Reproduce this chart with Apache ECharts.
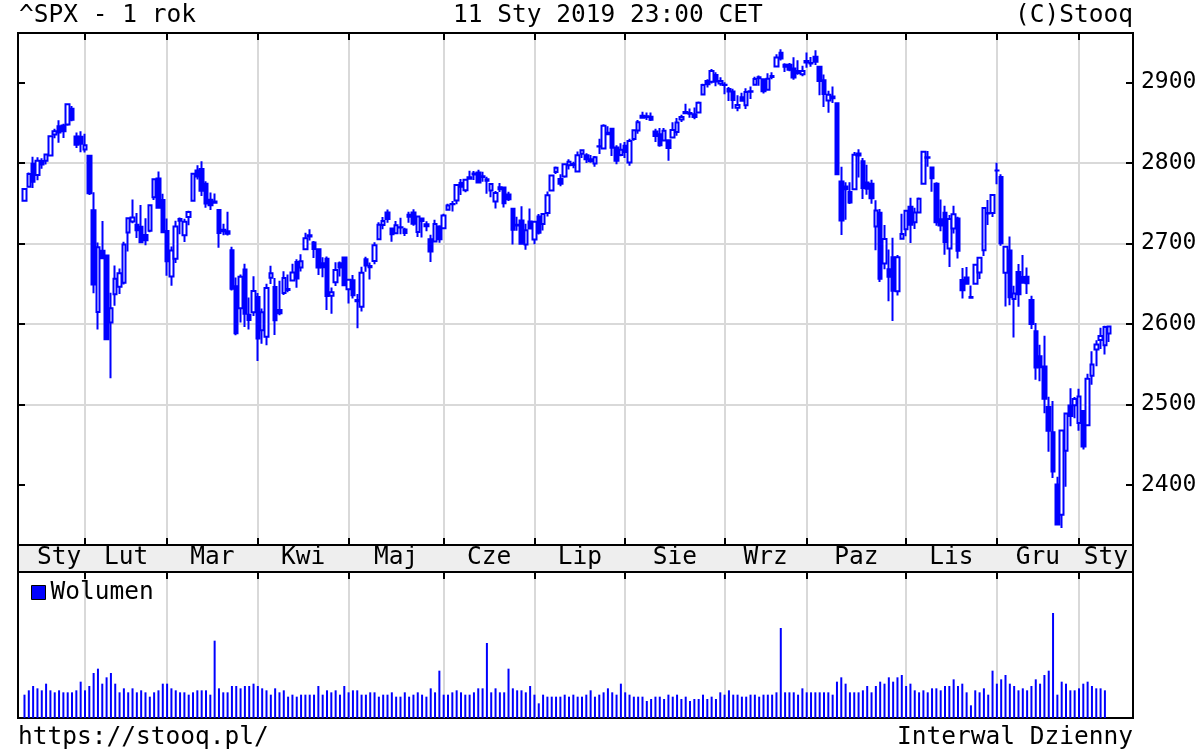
<!DOCTYPE html>
<html><head><meta charset="utf-8">
<script src="https://cdn.jsdelivr.net/npm/echarts@6/dist/echarts.min.js"></script>
<style>html,body{margin:0;padding:0;background:#fff}#c{width:1200px;height:750px}</style>
</head><body><div id="c"></div>
<script>
// ---------------- DATA ----------------
const monthNames = ['Sty','Lut','Mar','Kwi','Maj','Cze','Lip','Sie','Wrz','Paz','Lis','Gru','Sty'];
const monthYear  = [2018,2018,2018,2018,2018,2018,2018,2018,2018,2018,2018,2018,2019];
const monthNum   = [1,2,3,4,5,6,7,8,9,10,11,12,1];
const tradingDays = [
 [11,12,16,17,18,19,22,23,24,25,26,29,30,31],
 [1,2,5,6,7,8,9,12,13,14,15,16,20,21,22,23,26,27,28],
 [1,2,5,6,7,8,9,12,13,14,15,16,19,20,21,22,23,26,27,28,29],
 [2,3,4,5,6,9,10,11,12,13,16,17,18,19,20,23,24,25,26,27,30],
 [1,2,3,4,7,8,9,10,11,14,15,16,17,18,21,22,23,24,25,29,30,31],
 [1,4,5,6,7,8,11,12,13,14,15,18,19,20,21,22,25,26,27,28,29],
 [2,3,5,6,9,10,11,12,13,16,17,18,19,20,23,24,25,26,27,30,31],
 [1,2,3,6,7,8,9,10,13,14,15,16,17,20,21,22,23,24,27,28,29,30,31],
 [4,5,6,7,10,11,12,13,14,17,18,19,20,21,24,25,26,27,28],
 [1,2,3,4,5,8,9,10,11,12,15,16,17,18,19,22,23,24,25,26,29,30,31],
 [1,2,5,6,7,8,9,12,13,14,15,16,19,20,21,23,26,27,28,29,30],
 [3,4,6,7,10,11,12,13,14,17,18,19,20,21,24,26,27,28,31],
 [2,3,4,7,8,9,10,11]
];
const open = [
 2752.97,2770.18,2798.96,2784.99,2802.40,2802.60,2809.16,2835.05,2845.42,2846.24,2847.48,2867.23,2832.74,2832.41,
 2816.45,2808.92,2741.06,2614.78,2690.95,2685.01,2601.78,2636.75,2646.27,2651.21,2713.46,2727.14,2722.99,2720.53,2710.42,2715.80,2757.37,2780.45,2753.78,
 2715.22,2658.89,2681.06,2730.18,2710.18,2732.75,2752.91,2790.54,2792.31,2774.06,2754.27,2750.57,2741.38,2715.05,2714.99,2691.36,2646.71,2619.35,2667.57,2611.30,2614.41,
 2633.45,2592.17,2584.04,2657.36,2645.82,2617.18,2638.41,2643.22,2653.83,2676.90,2670.10,2692.74,2710.11,2701.16,2692.56,2675.40,2680.80,2634.92,2651.65,2675.47,2682.51,
 2642.96,2654.24,2628.08,2621.45,2680.34,2670.26,2678.12,2705.02,2722.70,2738.47,2718.59,2712.62,2719.71,2717.35,2735.39,2738.34,2713.98,2730.94,2723.60,2705.11,2702.43,2720.98,
 2718.70,2741.67,2748.46,2753.25,2774.84,2765.84,2780.18,2785.60,2787.94,2783.21,2777.78,2765.79,2752.01,2769.73,2769.28,2760.79,2742.94,2722.12,2728.45,2698.69,2727.13,
 2704.95,2733.27,2724.19,2737.68,2765.79,2788.56,2779.82,2783.14,2796.93,2797.36,2789.34,2811.35,2809.37,2804.55,2799.17,2820.68,2817.73,2835.49,2842.35,2819.00,2809.73,
 2821.17,2800.48,2829.62,2840.29,2855.92,2856.79,2857.19,2838.90,2835.46,2827.88,2827.95,2831.44,2838.32,2853.93,2861.51,2860.99,2860.29,2862.35,2884.69,2901.45,2900.62,2908.94,2898.37,
 2896.96,2891.59,2888.64,2868.26,2881.39,2871.57,2888.29,2896.85,2906.38,2903.83,2890.74,2906.60,2919.73,2936.76,2921.83,2921.75,2916.98,2911.65,2910.03,
 2926.29,2923.80,2931.69,2919.35,2902.54,2877.53,2882.51,2873.90,2776.87,2770.54,2763.83,2767.05,2811.67,2802.00,2775.66,2773.94,2721.03,2737.87,2674.88,2667.86,2682.65,2640.68,2705.60,
 2717.58,2745.45,2726.37,2738.40,2774.13,2806.38,2794.10,2773.93,2730.05,2737.90,2693.52,2718.54,2730.74,2654.60,2657.74,2633.36,2649.97,2663.75,2691.45,2736.97,2737.76,
 2790.50,2782.43,2663.51,2691.26,2630.86,2664.44,2658.23,2658.70,2629.68,2590.75,2559.90,2547.05,2496.77,2465.38,2400.56,2363.12,2442.50,2498.77,2498.94,
 2476.96,2491.92,2474.33,2535.61,2568.11,2580.00,2573.51,2588.11
];
const high = [
 2767.56,2787.85,2807.54,2807.04,2805.83,2810.33,2833.03,2842.24,2852.97,2848.56,2872.87,2870.62,2837.75,2839.26,
 2835.96,2808.92,2763.39,2701.04,2727.67,2685.27,2638.67,2672.61,2668.84,2702.10,2731.51,2754.42,2737.60,2747.75,2731.26,2747.76,2780.64,2789.15,2761.52,
 2730.89,2696.25,2728.09,2732.08,2730.60,2740.45,2786.57,2796.98,2801.90,2777.11,2763.03,2761.85,2741.38,2724.22,2739.14,2695.68,2657.67,2661.36,2674.78,2632.65,2659.07,
 2638.30,2619.14,2649.86,2672.08,2656.88,2653.55,2665.45,2661.43,2674.72,2680.26,2686.49,2713.34,2717.49,2702.84,2693.94,2682.86,2683.55,2645.30,2676.48,2677.35,2682.87,
 2655.27,2660.87,2637.14,2670.93,2683.35,2676.34,2701.27,2726.11,2732.86,2742.10,2718.59,2727.76,2731.96,2719.50,2739.19,2742.24,2733.33,2731.97,2727.36,2710.67,2729.34,2722.50,
 2736.93,2749.16,2752.61,2772.39,2779.90,2779.39,2790.21,2789.80,2791.47,2789.06,2782.81,2774.99,2765.05,2774.86,2769.28,2764.17,2742.94,2732.91,2746.09,2724.34,2743.26,
 2727.26,2736.58,2737.83,2764.41,2784.65,2795.58,2785.91,2799.22,2804.53,2801.19,2814.19,2816.76,2812.05,2809.70,2808.61,2829.99,2848.03,2845.57,2843.17,2821.74,2824.46,
 2825.83,2829.91,2840.38,2853.29,2863.43,2862.44,2862.48,2842.20,2843.40,2843.11,2827.95,2850.49,2855.63,2859.76,2873.23,2867.54,2868.78,2876.16,2898.25,2903.77,2916.50,2912.46,2906.32,
 2900.18,2894.21,2892.05,2883.81,2886.93,2892.52,2894.65,2906.76,2908.30,2904.65,2911.17,2912.36,2934.80,2940.91,2923.79,2923.95,2931.15,2927.22,2920.53,
 2937.06,2931.42,2939.86,2919.78,2909.64,2889.45,2894.83,2874.02,2795.14,2775.77,2775.99,2813.46,2816.94,2806.04,2797.77,2778.94,2753.59,2742.59,2722.70,2692.38,2706.85,2685.43,2736.69,
 2741.67,2756.55,2744.27,2756.82,2815.15,2814.75,2794.10,2775.99,2754.60,2746.80,2735.38,2746.75,2733.16,2669.44,2670.73,2647.55,2674.35,2682.53,2744.00,2753.75,2760.88,
 2800.18,2785.93,2696.15,2708.54,2647.51,2674.35,2685.44,2670.19,2635.07,2601.13,2573.99,2585.29,2509.63,2504.41,2410.34,2467.76,2489.10,2520.27,2509.24,
 2519.49,2493.14,2538.07,2566.16,2579.82,2595.32,2597.82,2596.64
];
const low = [
 2752.78,2769.64,2768.64,2778.38,2792.56,2798.08,2808.12,2830.59,2824.81,2830.94,2846.18,2851.48,2818.27,2813.04,
 2812.70,2759.97,2638.17,2593.07,2681.33,2580.56,2532.69,2622.45,2637.08,2648.87,2689.82,2725.11,2706.76,2701.29,2697.77,2713.74,2753.78,2744.22,2713.54,
 2659.65,2647.32,2675.75,2711.26,2701.74,2722.65,2751.54,2779.26,2758.68,2744.38,2741.47,2749.97,2694.59,2710.05,2709.79,2641.59,2585.89,2601.81,2596.12,2593.06,2609.72,
 2553.80,2575.49,2573.61,2649.58,2586.27,2610.79,2635.78,2639.25,2653.83,2645.05,2665.16,2692.05,2703.63,2681.90,2660.61,2657.99,2617.32,2612.67,2647.16,2659.01,2648.04,
 2625.41,2631.70,2594.62,2615.32,2664.70,2655.20,2674.14,2704.54,2717.45,2725.47,2701.91,2712.17,2711.36,2709.18,2725.70,2721.88,2707.98,2707.38,2714.99,2676.81,2702.43,2700.68,
 2718.70,2740.54,2739.51,2748.46,2760.16,2763.59,2780.17,2778.78,2774.65,2776.52,2761.73,2757.12,2743.19,2763.91,2744.39,2752.68,2698.67,2715.60,2699.38,2691.99,2718.03,
 2698.95,2711.16,2716.02,2733.52,2765.79,2786.24,2770.77,2781.53,2791.69,2793.39,2789.24,2805.89,2799.77,2800.01,2795.14,2811.12,2817.73,2835.26,2808.34,2798.11,2808.06,
 2805.85,2796.34,2827.37,2835.98,2855.92,2853.09,2851.98,2825.81,2819.88,2826.58,2802.49,2831.44,2833.73,2850.62,2861.32,2856.05,2854.03,2862.35,2884.69,2893.50,2898.40,2895.22,2895.77,
 2885.13,2876.92,2867.29,2864.12,2875.94,2866.78,2879.20,2896.39,2895.77,2886.16,2890.43,2903.82,2919.73,2927.11,2912.63,2913.70,2903.28,2909.27,2907.50,
 2917.91,2919.37,2921.36,2883.92,2869.29,2862.08,2874.27,2784.86,2710.51,2729.44,2749.03,2766.91,2781.81,2755.18,2760.27,2749.22,2691.43,2651.89,2667.84,2628.16,2603.54,2635.34,2705.60,
 2708.85,2700.44,2717.94,2737.08,2774.13,2794.99,2764.24,2722.00,2714.98,2685.75,2670.75,2712.16,2681.09,2631.52,2649.82,2631.09,2649.97,2655.89,2684.38,2722.94,2732.76,
 2773.38,2697.18,2621.53,2623.14,2583.23,2621.30,2650.26,2637.27,2593.84,2530.54,2528.71,2488.96,2441.18,2408.55,2351.10,2346.58,2397.94,2472.89,2482.82,
 2467.47,2443.96,2474.33,2524.56,2547.56,2568.89,2562.02,2577.40
];
const close = [
 2767.56,2786.24,2776.42,2802.56,2798.03,2810.30,2832.97,2839.13,2837.54,2839.25,2872.87,2853.53,2822.43,2823.81,
 2821.98,2762.13,2648.94,2695.14,2681.66,2581.00,2619.55,2656.00,2662.94,2698.63,2731.20,2732.22,2716.26,2701.33,2703.96,2747.30,2779.60,2744.28,2713.83,
 2677.67,2691.25,2720.94,2728.12,2726.80,2738.97,2786.57,2783.02,2765.31,2749.48,2747.33,2752.01,2712.92,2716.94,2711.93,2643.69,2588.26,2658.55,2612.62,2605.00,2640.87,
 2581.88,2614.45,2644.69,2662.84,2604.47,2613.16,2656.87,2642.19,2663.99,2656.30,2677.84,2706.39,2708.64,2693.13,2670.14,2670.29,2634.56,2639.40,2666.94,2669.91,2648.05,
 2654.80,2635.67,2629.73,2663.42,2672.63,2671.92,2697.79,2723.07,2727.72,2730.13,2711.45,2722.46,2720.13,2712.97,2733.01,2724.44,2733.29,2727.76,2721.33,2689.86,2724.01,2705.27,
 2734.62,2746.87,2748.80,2772.35,2770.37,2779.03,2782.00,2786.85,2775.63,2782.49,2779.66,2773.75,2762.59,2767.32,2749.76,2754.88,2717.07,2723.06,2699.63,2716.31,2718.37,
 2726.71,2713.22,2736.61,2759.82,2784.17,2793.84,2774.02,2798.29,2801.31,2798.43,2809.55,2815.62,2804.49,2801.83,2806.98,2820.40,2846.07,2837.44,2818.82,2802.60,2816.29,
 2813.36,2827.22,2840.35,2850.40,2858.45,2857.70,2853.58,2833.28,2821.93,2839.96,2818.37,2840.69,2850.13,2857.05,2862.96,2861.82,2856.98,2874.69,2896.74,2897.52,2914.04,2901.13,2901.52,
 2896.72,2888.60,2878.05,2871.68,2877.13,2887.89,2888.92,2904.18,2904.98,2888.80,2904.31,2907.95,2930.75,2929.67,2919.37,2915.56,2905.97,2914.00,2913.98,
 2924.59,2923.43,2925.51,2901.61,2885.57,2884.43,2880.34,2785.68,2728.37,2767.13,2750.79,2809.92,2809.21,2768.78,2767.78,2755.88,2740.69,2656.10,2705.57,2658.69,2641.25,2682.63,2711.74,
 2740.37,2723.06,2738.31,2755.45,2813.89,2806.83,2781.01,2726.22,2722.18,2701.58,2730.20,2736.27,2690.73,2641.89,2649.93,2632.56,2673.45,2682.17,2743.79,2737.80,2760.17,
 2790.37,2700.06,2695.95,2633.08,2637.72,2636.78,2651.07,2650.54,2599.95,2545.94,2546.16,2506.96,2467.42,2416.62,2351.10,2467.70,2488.83,2485.74,2506.85,
 2510.03,2447.89,2531.94,2549.69,2574.41,2584.96,2596.26,2596.64
];
// relative volume (no scale shown on the chart); last day has no volume yet
const volume = [
 70,83,96,89,83,103,83,77,83,77,77,77,83,109,
 83,96,135,148,103,122,135,103,77,89,77,89,77,83,77,64,77,83,103,
 103,89,83,77,77,70,77,83,83,83,70,232,89,77,77,96,96,89,96,96,103,
 96,89,83,70,89,77,83,64,70,64,70,70,70,70,96,70,83,77,83,70,96,
 77,83,83,70,70,77,77,64,70,70,77,64,64,77,64,70,77,70,64,89,77,142,
 70,70,77,83,77,70,70,77,89,89,225,77,89,77,77,148,89,83,83,77,96,
 70,44,70,64,64,64,64,70,64,70,64,64,70,83,64,70,77,89,77,70,103,
 77,70,64,64,64,51,57,64,64,57,70,64,70,57,64,51,57,57,70,57,64,57,77,
 70,83,70,70,64,64,70,70,64,70,70,70,77,270,77,77,77,70,89,
 77,77,77,77,77,77,70,109,122,103,77,77,77,83,96,77,96,109,103,122,109,122,129,
 96,103,83,77,83,77,89,89,83,96,96,116,96,103,77,38,83,77,89,70,142,
 103,116,129,103,96,83,89,83,96,116,103,129,142,315,70,109,103,83,83,
 89,103,109,96,89,89,83,null
];
const priceTicks = [2400,2500,2600,2700,2800,2900];

// ---------------- BUILD ----------------
const MONO = 'DejaVu Sans Mono';
const PAD_START = 1, PAD_END = 5;
const cats = [];
for (let p = 0; p < PAD_START; p++) cats.push('pad_s' + p);
const monthStart = [];
let n = 0;
tradingDays.forEach((days, m) => {
  monthStart.push(n);
  days.forEach(d => {
    cats.push(monthYear[m] + '-' + String(monthNum[m]).padStart(2,'0') + '-' + String(d).padStart(2,'0'));
    n++;
  });
});
for (let p = 0; p < PAD_END; p++) cats.push('pad_e' + p);
const nDays = n;
const boundaryCat = new Set(monthStart.slice(1).map(i => i + PAD_START));
const monthFn = (idx) => boundaryCat.has(idx);

const candles = [], vols = [];
for (let i = 0; i < nDays; i++) {
  candles.push([i + PAD_START, open[i], close[i], low[i], high[i]]);
  if (volume[i] != null) vols.push([i + PAD_START, volume[i]]);
}
const axisEnd = nDays - 1 + PAD_END + 0.5;
const labelPos = monthStart.map((s, m) => {
  const e = m + 1 < monthStart.length ? monthStart[m + 1] : axisEnd;
  return (s + e) / 2;
});
labelPos[0] = Math.max(labelPos[0], 8);

const L = 18, R = 67;
const gridLine = { color: '#d9d9d9', width: 2 };
const tickStyle = { color: '#000', width: 2 };
const chart = echarts.init(document.getElementById('c'), null, { renderer: 'canvas' });
const txt = { fontFamily: MONO, fontSize: 24.5, color: '#000', fontWeight: 'normal' };
const gridBase = { left: L, right: R, show: true, borderColor: '#000', borderWidth: 2, containLabel: false, outerBoundsMode: 'none' };
const noLine = { show: false, onZero: false };

chart.setOption({
  animation: false,
  backgroundColor: '#fff',
  title: [
    { text: '^SPX - 1 rok', left: 19, top: 3, padding: 0, textStyle: txt },
    { text: '11 Sty 2019 23:00 CET', left: 453, top: 3, padding: 0, textStyle: txt },
    { text: '(C)Stooq', right: R, top: 3, padding: 0, textStyle: txt },
    { text: 'https://stooq.pl/', left: 18, top: 725, padding: 0, textStyle: txt },
    { text: 'Interwal Dzienny', right: R, top: 725, padding: 0, textStyle: txt }
  ],
  legend: {
    data: ['Wolumen'], left: 31, top: 580, padding: 0, icon: 'rect',
    itemWidth: 14, itemHeight: 14, selectedMode: false,
    itemStyle: { borderColor: '#000', borderWidth: 1 },
    textStyle: txt
  },
  grid: [
    Object.assign({ top: 33, height: 512, backgroundColor: '#fff' }, gridBase),
    Object.assign({ top: 572, height: 146, backgroundColor: '#fff' }, gridBase),
    Object.assign({ top: 545, height: 27, backgroundColor: '#eeeeee' }, gridBase)
  ],
  xAxis: [
    { type: 'category', gridIndex: 0, data: cats, position: 'bottom', boundaryGap: true,
      axisLine: noLine, axisLabel: { show: false },
      axisTick: { show: true, inside: true, length: 7, alignWithLabel: true, interval: monthFn, lineStyle: tickStyle },
      splitLine: { show: true, alignWithLabel: true, interval: monthFn, lineStyle: gridLine } },
    { type: 'category', gridIndex: 0, data: cats, position: 'top', boundaryGap: true,
      axisLine: noLine, axisLabel: { show: false }, splitLine: { show: false },
      axisTick: { show: true, inside: true, length: 7, alignWithLabel: true, interval: monthFn, lineStyle: tickStyle } },
    { type: 'category', gridIndex: 1, data: cats, position: 'top', boundaryGap: true,
      axisLine: noLine, axisLabel: { show: false },
      axisTick: { show: true, inside: true, length: 7, alignWithLabel: true, interval: monthFn, lineStyle: tickStyle },
      splitLine: { show: true, alignWithLabel: true, interval: monthFn, lineStyle: gridLine } },
    { type: 'value', gridIndex: 2, min: -PAD_START - 0.5, max: axisEnd, position: 'bottom',
      axisLine: noLine, axisTick: { show: false }, splitLine: { show: false },
      axisLabel: { show: true, inside: true, margin: 14, verticalAlign: 'middle',
        customValues: labelPos,
        formatter: v => { const k = labelPos.indexOf(v); return k >= 0 ? monthNames[k] : ''; },
        fontFamily: MONO, fontSize: 24.5, color: '#000' } }
  ],
  yAxis: [
    { type: 'value', gridIndex: 0, position: 'right', min: 2325.5, max: 2961.2,
      axisLine: { show: false },
      axisTick: { show: true, inside: true, length: 7, customValues: priceTicks, lineStyle: tickStyle },
      axisLabel: { show: true, margin: 8, customValues: priceTicks,
        formatter: v => String(v), fontFamily: MONO, fontSize: 23, color: '#000' },
      splitLine: { show: true, showMinLine: false, showMaxLine: false, lineStyle: gridLine } },
    { type: 'value', gridIndex: 0, position: 'left', min: 2325.5, max: 2961.2,
      axisLine: { show: false }, axisLabel: { show: false }, splitLine: { show: false },
      axisTick: { show: true, inside: true, length: 7, customValues: priceTicks, lineStyle: tickStyle } },
    { type: 'value', gridIndex: 1, min: 0, max: 438, show: false },
    { type: 'value', gridIndex: 2, min: 0, max: 1, show: false }
  ],
  series: [
    { name: 'SPX', type: 'candlestick', xAxisIndex: 0, yAxisIndex: 0,
      data: candles, encode: { x: 0, y: [1, 2, 3, 4] },
      barWidth: 4,
      itemStyle: { color: '#ffffff', color0: '#0000ff', borderColor: '#0000ff', borderColor0: '#0000ff', borderWidth: 2 } },
    { name: 'Wolumen', type: 'bar', xAxisIndex: 2, yAxisIndex: 2,
      data: vols, barWidth: 2, itemStyle: { color: '#0000ff' } }
  ]
});
</script>
</body></html>
